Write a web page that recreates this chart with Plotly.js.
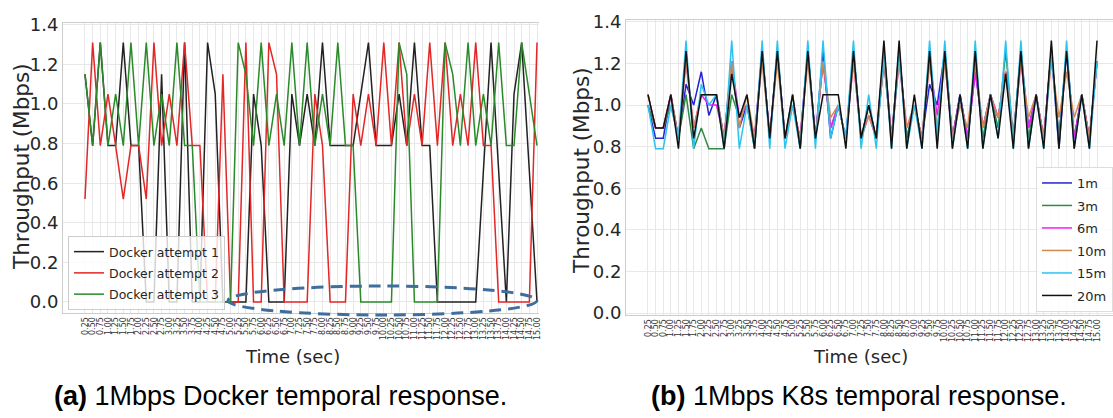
<!DOCTYPE html>
<html>
<head>
<meta charset="utf-8">
<script src="https://cdn.plot.ly/plotly-3.0.1.min.js"></script>
<style>
html,body{margin:0;padding:0;background:#fff;}
#chart{width:1113px;height:418px;}
</style>
</head>
<body>
<div id="chart"></div>
<script>
// Time categories (sec)
const times = ['0.25','0.50','0.75','1.00','1.25','1.50','1.75','2.00','2.25','2.50',
  '2.75','3.00','3.25','3.50','3.75','4.00','4.25','4.50','4.75','5.00',
  '5.25','5.50','5.75','6.00','6.25','6.50','6.75','7.00','7.25','7.50',
  '7.75','8.00','8.25','8.50','8.75','9.00','9.25','9.50','9.75','10.00',
  '10.25','10.50','10.75','11.00','11.25','11.50','11.75','12.00','12.25','12.50',
  '12.75','13.00','13.25','13.50','13.75','14.00','14.25','14.50','14.75','15.00'];

// (a) Docker throughput (Mbps)
const dockerAttempt1 = [1.15,0.79,1.31,0.79,0.79,1.31,0.79,0.79,0,0,
  1.15,0,0,1.31,0,0,1.31,1.05,0,0,
  0,0,1.05,0.79,0,0,0,1.05,0.79,1.05,
  0.79,1.31,0.79,0.79,0.79,0.79,1.05,1.31,0.79,0.79,
  0.79,1.05,0.79,1.31,0.79,0.79,0,0,0,0,
  0,0,0.66,1.31,0.66,0,1.05,1.31,0.66,0];
const dockerAttempt2 = [0.52,1.31,0.79,1.05,0.79,0.52,0.79,0.79,0.52,1.31,
  0.79,1.05,0.79,1.31,0.79,0.79,0,0,1.15,0,
  0,1.31,0,0,1.31,1.15,0,0,0,0,
  1.05,0.79,0,0,0,1.05,0.79,1.05,0.79,1.31,
  0.79,1.31,0.79,1.05,0.79,1.31,0.79,1.31,0.79,1.05,
  0.79,1.31,0.79,0.79,0,0,0,0,0,1.31];
const dockerAttempt3 = [1.15,0.79,1.31,0.79,1.05,0.79,1.31,0.79,1.31,0.79,
  1.05,0.79,1.31,0.79,0.79,0,0,0,0,0,
  1.31,1.15,0.79,1.31,0.79,1.05,0.79,1.31,0.79,1.31,
  0.79,1.05,0.79,1.31,0.79,0.79,0,0,0,0,
  0,1.31,1.15,0,0,0,0,1.31,1.15,0.79,
  1.31,0.79,1.05,0.79,1.31,0.79,0.79,1.31,1.05,0.79];

// (b) K8s throughput (Mbps) by distance
const k8s1m = [1.0,0.84,0.84,1.05,0.84,1.1,1.0,1.16,0.95,1.05,
  0.84,1.21,0.89,1.0,0.84,1.26,0.84,1.26,0.84,1.0,
  0.84,1.26,0.84,1.26,0.84,1.0,0.84,1.26,0.84,1.0,
  0.84,1.21,0.84,1.26,0.84,1.0,0.84,1.1,1.0,1.26,
  0.84,1.05,0.84,1.16,0.89,1.05,0.94,1.16,0.84,1.26,
  0.89,1.05,0.84,1.26,0.84,1.26,0.84,1.05,0.84,1.21];
const k8s3m = [1.0,0.89,0.89,1.0,0.84,1.05,0.79,0.89,0.79,0.79,
  0.79,1.05,0.94,1.0,0.79,1.26,0.84,1.26,0.84,1.05,
  0.79,1.26,0.84,1.21,0.89,1.0,0.84,1.26,0.84,1.0,
  0.84,1.26,0.84,1.26,0.84,1.0,0.84,1.26,0.84,1.26,
  0.84,1.05,0.84,1.21,0.84,1.05,0.89,1.26,0.84,1.26,
  0.84,1.05,0.84,1.26,0.84,1.26,0.84,1.05,0.84,1.21];
const k8s6m = [1.05,0.89,0.89,1.05,0.84,1.21,0.89,1.05,1.0,1.0,
  0.84,1.21,0.94,1.0,0.84,1.26,0.84,1.26,0.84,1.0,
  0.84,1.26,0.84,1.21,0.89,1.0,0.84,1.21,0.84,0.95,
  0.84,1.26,0.84,1.21,0.89,1.0,0.84,1.21,0.95,1.21,
  0.84,1.05,0.84,1.16,0.89,1.05,0.94,1.16,0.84,1.21,
  0.89,1.05,0.84,1.26,0.79,1.26,0.84,1.05,0.84,1.21];
const k8s10m = [1.05,0.89,0.89,1.05,0.84,1.21,0.89,1.05,1.05,1.05,
  0.84,1.21,0.89,1.05,0.84,1.21,0.84,1.21,0.84,1.0,
  0.84,1.21,0.84,1.21,0.94,1.0,0.84,1.21,0.84,0.95,
  0.84,1.21,0.84,1.21,0.89,1.0,0.84,1.21,0.89,1.21,
  0.84,1.0,0.89,1.21,0.89,1.05,0.94,1.16,0.84,1.21,
  0.94,1.05,0.84,1.21,0.94,1.16,0.94,1.05,0.84,1.21];
const k8s15m = [1.0,0.79,0.79,1.0,0.84,1.31,0.79,1.1,1.0,1.05,
  0.79,1.31,0.79,1.0,0.79,1.31,0.79,1.31,0.79,1.0,
  0.79,1.31,0.79,1.31,0.84,1.0,0.84,1.31,0.79,1.05,
  0.79,1.26,0.79,1.26,0.79,1.0,0.79,1.31,0.84,1.31,
  0.79,1.05,0.79,1.31,0.79,1.05,0.84,1.31,0.79,1.31,
  0.79,1.05,0.79,1.26,0.79,1.31,0.79,1.05,0.79,1.21];
const k8s20m = [1.05,0.89,0.89,1.05,0.79,1.26,0.84,1.05,1.05,1.05,
  0.79,1.15,0.94,1.05,0.79,1.26,0.84,1.26,0.84,1.05,
  0.79,1.26,0.84,1.05,1.05,1.05,0.79,1.26,0.84,1.0,
  0.84,1.31,0.79,1.31,0.79,1.05,0.79,1.26,0.79,1.26,
  0.79,1.05,0.79,1.26,0.79,1.05,0.84,1.15,0.79,1.26,
  0.79,1.05,0.79,1.31,0.79,1.26,0.79,1.05,0.79,1.31];

const dockerNames = ['Docker attempt 1','Docker attempt 2','Docker attempt 3'];
const dockerSeries = [dockerAttempt1, dockerAttempt2, dockerAttempt3];
const dockerColors = ['#222222','#e32626','#2a8a2a'];

const k8sNames = ['1m','3m','6m','10m','15m','20m'];
const k8sSeries = [k8s1m, k8s3m, k8s6m, k8s10m, k8s15m, k8s20m];
const k8sColors = ['#2323d8','#2f8a45','#f01ef0','#d4874f','#2ec3ef','#111111'];

const yTicks = [0,0.2,0.4,0.6,0.8,1.0,1.2,1.4];
const FONT = 'DejaVu Sans';
const W = 1113, H = 418;

const traces = [];
dockerSeries.forEach((s,i)=>{
  traces.push({x: times, y: s, type:'scatter', mode:'lines', name: dockerNames[i],
    legendgroup:'d'+i,
    line:{color: dockerColors[i], width:1.5}, xaxis:'x', yaxis:'y', legend:'legend'});
});
k8sSeries.forEach((s,i)=>{
  traces.push({x: times, y: s, type:'scatter', mode:'lines', name: k8sNames[i],
    legendgroup:'k'+i,
    line:{color: k8sColors[i], width:1.5}, xaxis:'x2', yaxis:'y2', legend:'legend2'});
});

function xAxis(domain, range){
  return {domain: domain, type:'category', range: range,
    tickmode:'linear', tick0:0, dtick:1, tickangle:-90,
    tickfont:{family:FONT, size:8, color:'#333'},
    showgrid:true, gridcolor:'#e8e8e8', gridwidth:1,
    showline:true, linecolor:'#cccccc', linewidth:1, mirror:true,
    ticks:'', zeroline:false, fixedrange:true};
}
function yAxis(domain, range, anchor){
  return {domain: domain, range: range, anchor: anchor,
    tickmode:'array', tickvals: yTicks, ticktext: yTicks.map(v=>v.toFixed(1)),
    tickfont:{family:FONT, size:18, color:'#262626'},
    showgrid:true, gridcolor:'#e8e8e8', gridwidth:1,
    showline:true, linecolor:'#cccccc', linewidth:1, mirror:false,
    ticks:'', zeroline:false, fixedrange:true};
}

const layout = {
  width: W, height: H,
  margin:{l:0,r:0,t:0,b:0,pad:0},
  paper_bgcolor:'#ffffff', plot_bgcolor:'#ffffff',
  showlegend:true,
  xaxis: Object.assign(xAxis([63/W, 539/W], [-2.87, 59.26]), {anchor:'y'}),
  yaxis: yAxis([1-313/H, 1-23/H], [-0.0556, 1.409], 'x'),
  xaxis2: Object.assign(xAxis([626/W, 1], [-2.89, 61.1]), {anchor:'y2'}),
  yaxis2: yAxis([1-315/H, 1-20/H], [-0.0096, 1.409], 'x2'),
  legend:{x:68/W, y:1-236/H, xanchor:'left', yanchor:'top', tracegroupgap:2,
    bgcolor:'rgba(255,255,255,0.8)', bordercolor:'#cccccc', borderwidth:1,
    font:{family:FONT, size:12.5, color:'#262626'}},
  legend2:{x:1, y:1-167/H, xanchor:'right', yanchor:'top', tracegroupgap:2.6,
    bgcolor:'rgba(255,255,255,0.8)', bordercolor:'#dddddd', borderwidth:1,
    font:{family:FONT, size:13, color:'#262626'}},
  shapes:[
    {type:'circle', xref:'paper', yref:'paper', x0:228/W, x1:537/W, y0:1-315/H, y1:1-286/H,
     line:{color:'#3f6d9e', width:3, dash:'12px,7px'}, layer:'above'}
  ],
  annotations:[
    {text:'Throughput (Mbps)', xref:'paper', yref:'paper', x:21/W, y:1-167/H, textangle:-90,
     showarrow:false, font:{family:FONT, size:21.5, color:'#262626'}, xanchor:'center', yanchor:'middle'},
    {text:'Throughput (Mbps)', xref:'paper', yref:'paper', x:581/W, y:1-171/H, textangle:-90,
     showarrow:false, font:{family:FONT, size:21.5, color:'#262626'}, xanchor:'center', yanchor:'middle'},
    {text:'Time (sec)', xref:'paper', yref:'paper', x:292/W, y:1-356/H,
     showarrow:false, font:{family:FONT, size:18, color:'#262626'}, xanchor:'center', yanchor:'middle'},
    {text:'Time (sec)', xref:'paper', yref:'paper', x:860/W, y:1-356/H,
     showarrow:false, font:{family:FONT, size:18, color:'#262626'}, xanchor:'center', yanchor:'middle'},
    {text:'<b>(a)</b> 1Mbps Docker temporal response.', xref:'paper', yref:'paper', x:280/W, y:1-396/H,
     showarrow:false, font:{family:'Liberation Sans', size:27, color:'#000'}, xanchor:'center', yanchor:'middle'},
    {text:'<b>(b)</b> 1Mbps K8s temporal response.', xref:'paper', yref:'paper', x:859/W, y:1-396/H,
     showarrow:false, font:{family:'Liberation Sans', size:27, color:'#000'}, xanchor:'center', yanchor:'middle'}
  ]
};

Plotly.newPlot('chart', traces, layout, {staticPlot:true, displayModeBar:false});
</script>
</body>
</html>
